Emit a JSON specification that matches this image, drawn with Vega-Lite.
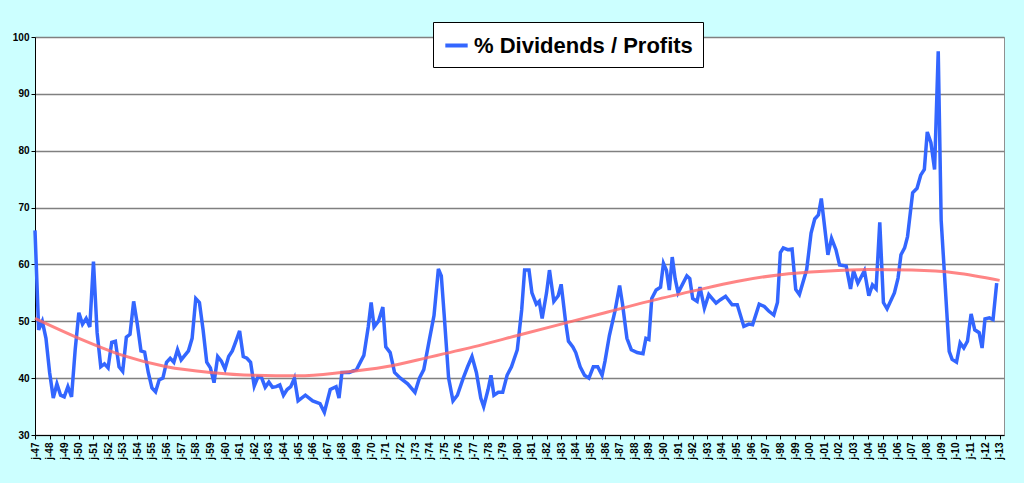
{
  "$schema": "https://vega.github.io/schema/vega-lite/v6.json",
  "width": 969,
  "height": 398,
  "autosize": "none",
  "padding": {"left": 35, "top": 37, "right": 20, "bottom": 48},
  "background": "#ccffff",
  "config": {
    "view": {"fill": "white", "stroke": "#909090", "strokeWidth": 1},
    "font": "Liberation Sans"
  },
  "datasets": {
    "ratio": [
      {"year": 1947.0, "v": 66}, {"year": 1947.25, "v": 48.5}, {"year": 1947.5, "v": 50}, {"year": 1947.75, "v": 47},
      {"year": 1948.0, "v": 41}, {"year": 1948.25, "v": 36.5}, {"year": 1948.5, "v": 39}, {"year": 1948.75, "v": 37},
      {"year": 1949.0, "v": 36.7}, {"year": 1949.25, "v": 38.5}, {"year": 1949.5, "v": 36.7}, {"year": 1949.75, "v": 45},
      {"year": 1950.0, "v": 51.5}, {"year": 1950.25, "v": 49.5}, {"year": 1950.5, "v": 50.5}, {"year": 1950.75, "v": 49},
      {"year": 1951.0, "v": 60.5}, {"year": 1951.25, "v": 48}, {"year": 1951.5, "v": 42}, {"year": 1951.75, "v": 42.5},
      {"year": 1952.0, "v": 41.8}, {"year": 1952.25, "v": 46.3}, {"year": 1952.5, "v": 46.5}, {"year": 1952.75, "v": 42},
      {"year": 1953.0, "v": 41.2}, {"year": 1953.25, "v": 47.2}, {"year": 1953.5, "v": 47.7}, {"year": 1953.75, "v": 53.5},
      {"year": 1954.0, "v": 49.5}, {"year": 1954.25, "v": 44.8}, {"year": 1954.5, "v": 44.6}, {"year": 1954.75, "v": 41},
      {"year": 1955.0, "v": 38.3}, {"year": 1955.25, "v": 37.6}, {"year": 1955.5, "v": 39.7}, {"year": 1955.75, "v": 40},
      {"year": 1956.0, "v": 42.8}, {"year": 1956.25, "v": 43.5}, {"year": 1956.5, "v": 42.8}, {"year": 1956.75, "v": 45},
      {"year": 1957.0, "v": 43.2}, {"year": 1957.25, "v": 44}, {"year": 1957.5, "v": 44.8}, {"year": 1957.75, "v": 47},
      {"year": 1958.0, "v": 54}, {"year": 1958.25, "v": 53.3}, {"year": 1958.5, "v": 48.5}, {"year": 1958.75, "v": 42.8},
      {"year": 1959.0, "v": 41.8}, {"year": 1959.25, "v": 39.2}, {"year": 1959.5, "v": 43.8}, {"year": 1959.75, "v": 43},
      {"year": 1960.0, "v": 41.6}, {"year": 1960.25, "v": 43.8}, {"year": 1960.5, "v": 44.8}, {"year": 1960.75, "v": 46.5},
      {"year": 1961.0, "v": 48.3}, {"year": 1961.25, "v": 43.8}, {"year": 1961.5, "v": 43.5}, {"year": 1961.75, "v": 42.8},
      {"year": 1962.0, "v": 38.6}, {"year": 1962.25, "v": 40.2}, {"year": 1962.5, "v": 40.1}, {"year": 1962.75, "v": 38.4},
      {"year": 1963.0, "v": 39.3}, {"year": 1963.25, "v": 38.4}, {"year": 1963.5, "v": 38.5}, {"year": 1963.75, "v": 38.8},
      {"year": 1964.0, "v": 37}, {"year": 1964.25, "v": 38}, {"year": 1964.5, "v": 38.5}, {"year": 1964.75, "v": 40},
      {"year": 1965.0, "v": 36}, {"year": 1965.5, "v": 37}, {"year": 1966.0, "v": 36}, {"year": 1966.5, "v": 35.5},
      {"year": 1966.8, "v": 34}, {"year": 1967.2, "v": 38}, {"year": 1967.6, "v": 38.5}, {"year": 1967.8, "v": 36.5},
      {"year": 1968.0, "v": 41}, {"year": 1968.5, "v": 41}, {"year": 1969.0, "v": 41.5}, {"year": 1969.5, "v": 44},
      {"year": 1969.8, "v": 49}, {"year": 1970.0, "v": 53.3}, {"year": 1970.2, "v": 49}, {"year": 1970.5, "v": 50},
      {"year": 1970.8, "v": 52.5}, {"year": 1971.0, "v": 45.5}, {"year": 1971.3, "v": 44.5}, {"year": 1971.6, "v": 41},
      {"year": 1972.0, "v": 40}, {"year": 1972.5, "v": 39}, {"year": 1973.0, "v": 37.5}, {"year": 1973.3, "v": 40},
      {"year": 1973.6, "v": 41.5}, {"year": 1974.0, "v": 47}, {"year": 1974.3, "v": 51}, {"year": 1974.6, "v": 59.2},
      {"year": 1974.8, "v": 58}, {"year": 1975.0, "v": 51}, {"year": 1975.3, "v": 40}, {"year": 1975.6, "v": 36},
      {"year": 1975.9, "v": 37}, {"year": 1976.3, "v": 40}, {"year": 1976.6, "v": 42}, {"year": 1976.9, "v": 43.8},
      {"year": 1977.2, "v": 41}, {"year": 1977.5, "v": 36.5}, {"year": 1977.7, "v": 35}, {"year": 1978.0, "v": 38},
      {"year": 1978.2, "v": 40.5}, {"year": 1978.4, "v": 37}, {"year": 1978.7, "v": 37.5}, {"year": 1979.0, "v": 37.5},
      {"year": 1979.3, "v": 40.5}, {"year": 1979.6, "v": 42}, {"year": 1980.0, "v": 45}, {"year": 1980.3, "v": 52},
      {"year": 1980.5, "v": 59}, {"year": 1980.8, "v": 59}, {"year": 1981.0, "v": 55}, {"year": 1981.3, "v": 53},
      {"year": 1981.5, "v": 53.5}, {"year": 1981.7, "v": 50.5}, {"year": 1982.0, "v": 55}, {"year": 1982.2, "v": 59},
      {"year": 1982.5, "v": 53.5}, {"year": 1982.8, "v": 54.5}, {"year": 1983.0, "v": 56.5}, {"year": 1983.3, "v": 50},
      {"year": 1983.5, "v": 46.5}, {"year": 1983.8, "v": 45.5}, {"year": 1984.0, "v": 44.5}, {"year": 1984.3, "v": 42},
      {"year": 1984.6, "v": 40.5}, {"year": 1984.9, "v": 40}, {"year": 1985.2, "v": 42}, {"year": 1985.5, "v": 42},
      {"year": 1985.8, "v": 40.5}, {"year": 1986.0, "v": 43}, {"year": 1986.3, "v": 47.5}, {"year": 1986.7, "v": 52},
      {"year": 1987.0, "v": 56.3}, {"year": 1987.2, "v": 53}, {"year": 1987.5, "v": 47}, {"year": 1987.8, "v": 45},
      {"year": 1988.2, "v": 44.5}, {"year": 1988.6, "v": 44.3}, {"year": 1988.8, "v": 47}, {"year": 1989.0, "v": 46.8},
      {"year": 1989.2, "v": 54}, {"year": 1989.5, "v": 55.5}, {"year": 1989.8, "v": 56}, {"year": 1990.0, "v": 60.2},
      {"year": 1990.2, "v": 59}, {"year": 1990.4, "v": 55.5}, {"year": 1990.6, "v": 61.3}, {"year": 1990.8, "v": 57.5},
      {"year": 1991.0, "v": 55}, {"year": 1991.3, "v": 56.5}, {"year": 1991.6, "v": 58}, {"year": 1991.8, "v": 57.5},
      {"year": 1992.0, "v": 54}, {"year": 1992.3, "v": 53.5}, {"year": 1992.5, "v": 56}, {"year": 1992.8, "v": 52.3},
      {"year": 1993.1, "v": 54.7}, {"year": 1993.6, "v": 53.2}, {"year": 1993.9, "v": 53.8}, {"year": 1994.25, "v": 54.4},
      {"year": 1994.7, "v": 52.9}, {"year": 1995.05, "v": 52.9}, {"year": 1995.5, "v": 49.1}, {"year": 1995.85, "v": 49.5},
      {"year": 1996.1, "v": 49.4}, {"year": 1996.55, "v": 53}, {"year": 1996.9, "v": 52.6}, {"year": 1997.2, "v": 51.8},
      {"year": 1997.55, "v": 51.1}, {"year": 1997.8, "v": 53.3}, {"year": 1998.0, "v": 62.1}, {"year": 1998.2, "v": 62.9},
      {"year": 1998.5, "v": 62.6}, {"year": 1998.8, "v": 62.7}, {"year": 1999.05, "v": 55.6}, {"year": 1999.3, "v": 54.7},
      {"year": 1999.8, "v": 59.1}, {"year": 2000.1, "v": 65.5}, {"year": 2000.35, "v": 68}, {"year": 2000.6, "v": 68.7},
      {"year": 2000.8, "v": 71.6}, {"year": 2001.25, "v": 61.7}, {"year": 2001.5, "v": 64.6}, {"year": 2001.8, "v": 62.6},
      {"year": 2002.05, "v": 59.9}, {"year": 2002.5, "v": 59.7}, {"year": 2002.8, "v": 55.7}, {"year": 2003.0, "v": 58.9},
      {"year": 2003.3, "v": 56.7}, {"year": 2003.75, "v": 58.9}, {"year": 2004.05, "v": 54.5}, {"year": 2004.3, "v": 56.4},
      {"year": 2004.55, "v": 55.7}, {"year": 2004.8, "v": 67.4}, {"year": 2005.05, "v": 53.3}, {"year": 2005.3, "v": 52.2},
      {"year": 2005.8, "v": 55}, {"year": 2006.05, "v": 57.6}, {"year": 2006.25, "v": 61.7}, {"year": 2006.5, "v": 62.9},
      {"year": 2006.7, "v": 64.9}, {"year": 2007.05, "v": 72.6}, {"year": 2007.35, "v": 73.4}, {"year": 2007.6, "v": 75.7},
      {"year": 2007.85, "v": 76.7}, {"year": 2008.05, "v": 83.3}, {"year": 2008.3, "v": 81.4}, {"year": 2008.55, "v": 76.7},
      {"year": 2008.8, "v": 97.5}, {"year": 2009.0, "v": 67.8}, {"year": 2009.55, "v": 44.7}, {"year": 2009.75, "v": 43.3},
      {"year": 2010.05, "v": 42.8}, {"year": 2010.3, "v": 46.2}, {"year": 2010.55, "v": 45.3}, {"year": 2010.8, "v": 46.5},
      {"year": 2011.05, "v": 51.3}, {"year": 2011.3, "v": 48.5}, {"year": 2011.6, "v": 48}, {"year": 2011.8, "v": 45.3},
      {"year": 2012.0, "v": 50.4}, {"year": 2012.3, "v": 50.6}, {"year": 2012.55, "v": 50.3}, {"year": 2012.8, "v": 56.7}
    ],
    "trend": [
      {"year": 1947, "v": 50.5}, {"year": 1950, "v": 47}, {"year": 1953, "v": 44}, {"year": 1956, "v": 42},
      {"year": 1959, "v": 41}, {"year": 1962, "v": 40.5}, {"year": 1965, "v": 40.4}, {"year": 1968, "v": 41},
      {"year": 1971, "v": 42}, {"year": 1974, "v": 43.7}, {"year": 1977, "v": 45.5}, {"year": 1980, "v": 47.5},
      {"year": 1983, "v": 49.5}, {"year": 1986, "v": 51.5}, {"year": 1989, "v": 53.5}, {"year": 1992, "v": 55.3},
      {"year": 1995, "v": 57}, {"year": 1998, "v": 58.2}, {"year": 2001, "v": 58.8}, {"year": 2004, "v": 59.1},
      {"year": 2007, "v": 59}, {"year": 2010, "v": 58.5}, {"year": 2013, "v": 57.2}
    ]
  },
  "encoding": {
    "x": {
      "field": "year", "type": "quantitative",
      "scale": {"domain": [1947, 2013.3], "nice": false, "zero": false},
      "axis": {
        "title": null, "grid": false,
        "values": [1947,1948,1949,1950,1951,1952,1953,1954,1955,1956,1957,1958,1959,1960,1961,1962,1963,1964,1965,1966,1967,1968,1969,1970,1971,1972,1973,1974,1975,1976,1977,1978,1979,1980,1981,1982,1983,1984,1985,1986,1987,1988,1989,1990,1991,1992,1993,1994,1995,1996,1997,1998,1999,2000,2001,2002,2003,2004,2005,2006,2007,2008,2009,2010,2011,2012,2013],
        "labelExpr": "'j-' + substring('' + datum.value, 2)",
        "labelAngle": 270, "labelAlign": "right", "labelBaseline": "middle",
        "labelFontSize": 10, "labelFontWeight": "bold", "labelColor": "black",
        "labelPadding": 3, "labelOverlap": false,
        "domainColor": "black", "tickColor": "black", "tickSize": 4
      }
    },
    "y": {
      "field": "v", "type": "quantitative",
      "scale": {"domain": [30, 100], "nice": false, "zero": false},
      "axis": {
        "title": null, "values": [30,40,50,60,70,80,90,100],
        "labelFontSize": 10, "labelFontWeight": "bold", "labelColor": "black",
        "gridColor": "#808080", "gridWidth": 1.5,
        "domainColor": "black", "tickColor": "black", "tickSize": 4
      }
    }
  },
  "layer": [
    {
      "data": {"name": "ratio"},
      "mark": {"type": "line", "strokeWidth": 3.5},
      "encoding": {
        "color": {
          "datum": "% Dividends / Profits",
          "scale": {"range": ["#3366ff"]},
          "legend": {
            "title": null, "orient": "none", "legendX": 398, "legendY": -15,
            "fillColor": "white", "strokeColor": "black", "padding": 10,
            "symbolType": "stroke", "symbolStrokeWidth": 4, "symbolSize": 500,
            "labelFontSize": 22, "labelFontWeight": "bold", "labelColor": "black",
            "labelFont": "Liberation Sans", "labelLimit": 400
          }
        }
      }
    },
    {
      "data": {"name": "trend"},
      "mark": {"type": "line", "interpolate": "monotone", "color": "#ff6666", "strokeWidth": 3, "opacity": 0.8},
      "encoding": {}
    }
  ]
}
